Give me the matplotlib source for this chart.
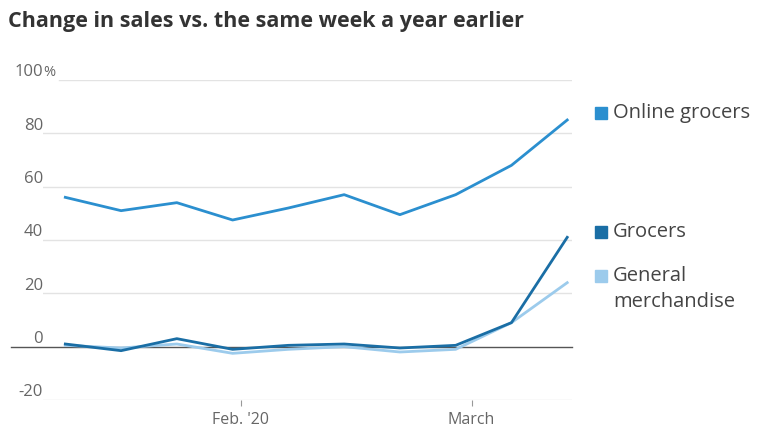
"""Weekly change in sales vs. the same week a year earlier."""
import matplotlib
matplotlib.use("Agg")
import matplotlib.pyplot as plt
import pandas as pd

# weeks ending Friday
weeks = pd.date_range("2020-01-10", periods=10, freq="7D")

online_grocers = [56, 51, 54, 47.5, 52, 57, 49.5, 57, 68, 85]
grocers = [1, -1.5, 3, -1, 0.5, 1, -0.5, 0.5, 9, 41]
general_merch = [0.5, -0.5, 1, -2.5, -1, 0, -2, -1, 9, 24]

y_ticks = [100, 80, 60, 40, 20, 0, -20]
y_labels = ["100", "80", "60", "40", "20", "0", "-20"]
x_ticks = [pd.Timestamp("2020-02-01"), pd.Timestamp("2020-03-01")]
x_labels = ["Feb. '20", "March"]

c_online = "#2b8fcf"
c_grocers = "#1a6ea5"
c_general = "#9ccbec"
grey = "#666666"

plt.rcParams["font.family"] = ["Open Sans", "DejaVu Sans"]

fig = plt.figure(figsize=(7.73, 4.29), dpi=100)
ax = fig.add_axes([43 / 773, 29 / 429, 529 / 773, 320 / 429])

# gridlines + labels sitting on top of them
for v, lab in zip(y_ticks, y_labels):
    if v == 0:
        ax.plot([-0.06, 1.0], [0, 0], transform=ax.get_yaxis_transform(),
                color="#555555", lw=1.0, clip_on=False, zorder=1)
    else:
        # top line starts after the "%" sign
        x0 = 0.03 if v == y_ticks[0] else 0.0
        ax.axhline(v, xmin=x0, color="#e3e3e3", lw=1.0, zorder=0)
    ax.text(0.0, v + 1.4, lab, transform=ax.get_yaxis_transform(),
            ha="right", va="baseline", fontsize=12, color=grey)
# percent sign hangs past the right edge of the top label
ax.text(0.0, y_ticks[0] + 1.4, "%", transform=ax.get_yaxis_transform(),
        ha="left", va="baseline", fontsize=10.5, color=grey)

ax.plot(weeks, general_merch, color=c_general, lw=2.0, zorder=2)
ax.plot(weeks, grocers, color=c_grocers, lw=2.0, zorder=3)
ax.plot(weeks, online_grocers, color=c_online, lw=2.0, zorder=3)

ax.set_xlim(weeks[0] - pd.Timedelta(days=2.8), weeks[-1] + pd.Timedelta(days=0.6))
ax.set_ylim(-20, 100)

ax.set_yticks([])
ax.set_xticks(x_ticks)
ax.set_xticklabels(x_labels, fontsize=11.5, color=grey)
ax.tick_params(axis="x", length=4, color="#999999", pad=5)
for s in ax.spines.values():
    s.set_visible(False)

# legend on the right
legend_items = [
    (c_online, "Online grocers", 113),
    (c_grocers, "Grocers", 232),
    (c_general, "General\nmerchandise", 289),
]
for col, txt, ypx in legend_items:
    yf = 1 - ypx / 429
    first_y = yf + (13 / 429 if "\n" in txt else 0)
    fig.patches.append(plt.Rectangle((595 / 773, first_y - 6 / 429), 12 / 773, 12 / 429,
                                     transform=fig.transFigure, color=col))
    fig.text(613 / 773, yf, txt, fontsize=14.5, color="#444444", va="center",
             linespacing=1.35)

fig.text(8 / 773, 1 - 22 / 429, "Change in sales vs. the same week a year earlier",
         fontsize=15.5, fontweight="bold", color="#333333", va="center")

fig.savefig("out.png", dpi=100)
